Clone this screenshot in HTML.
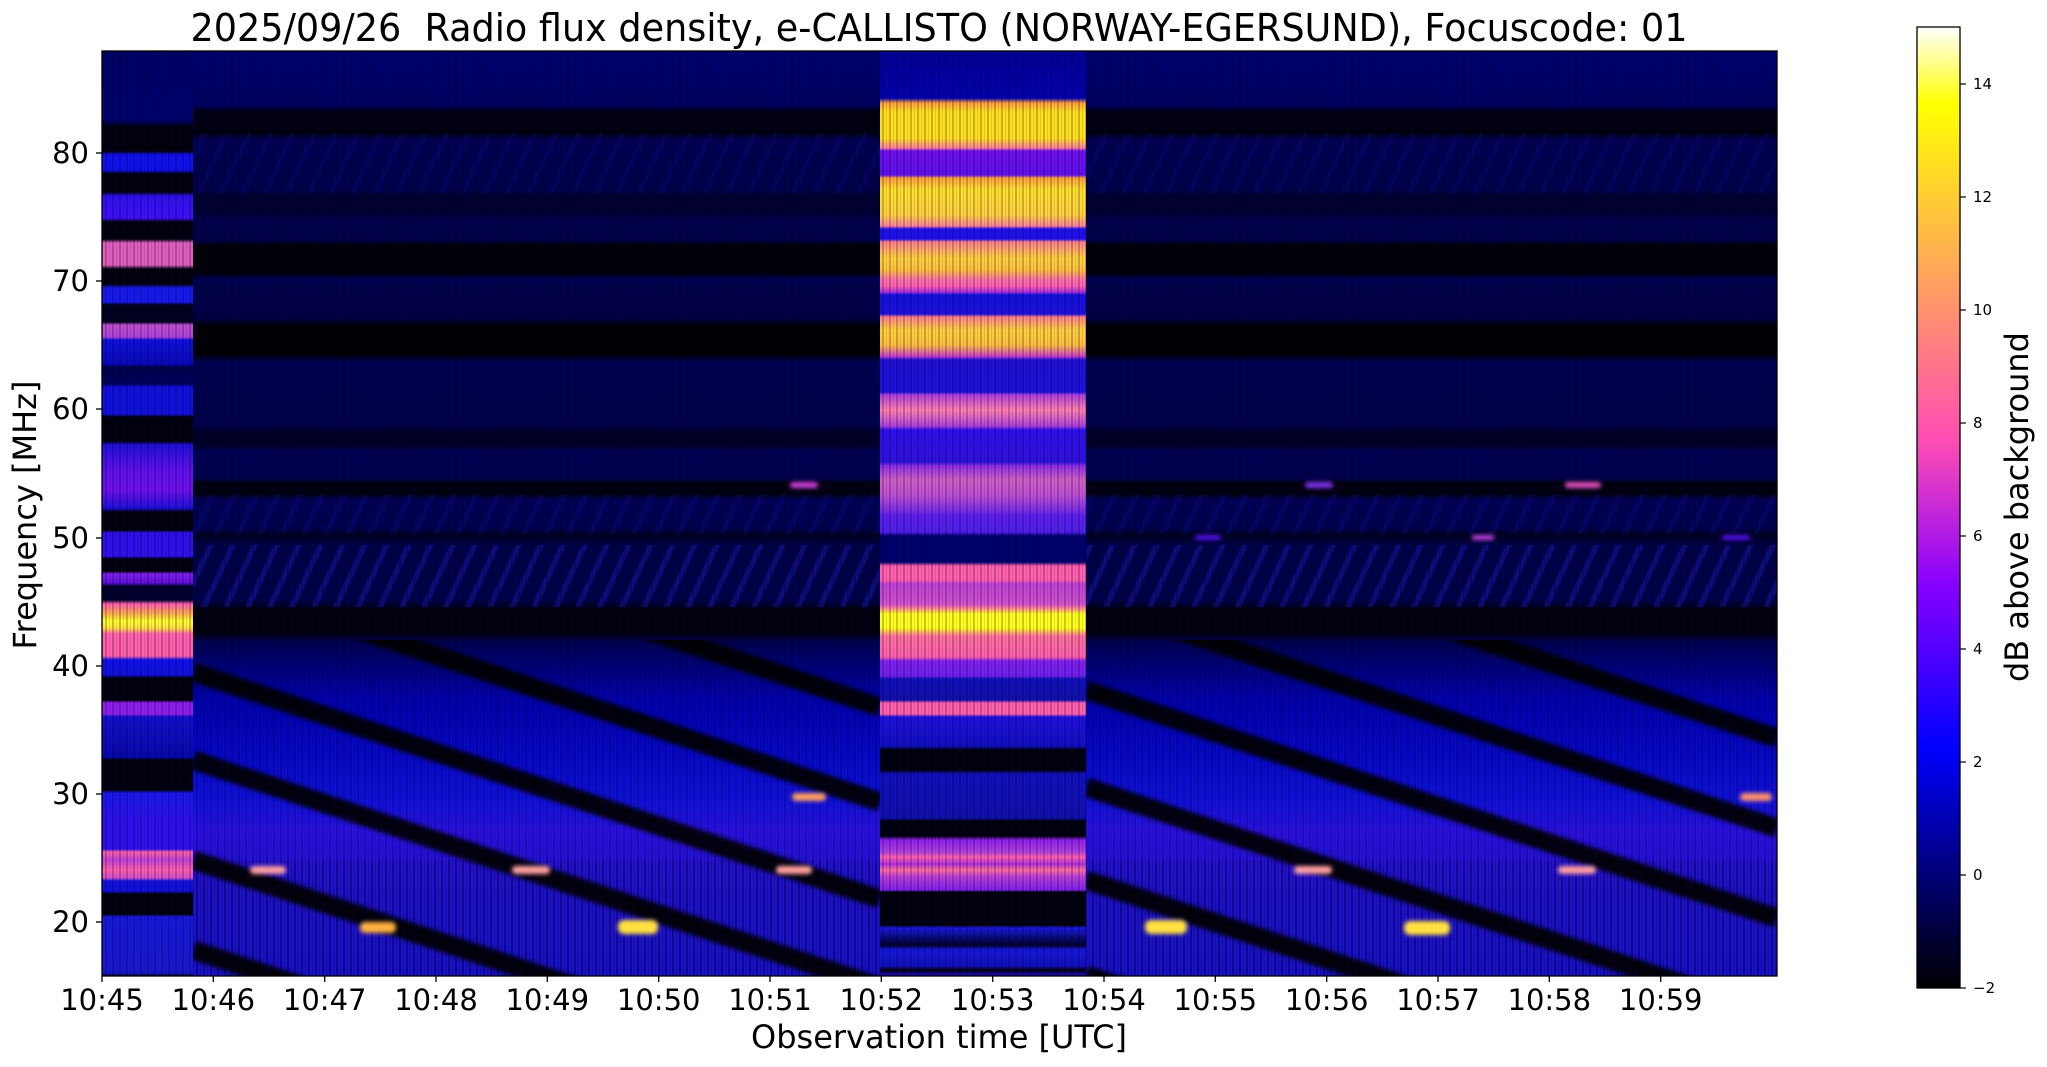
<!DOCTYPE html>
<html><head><meta charset="utf-8"><style>
html,body{margin:0;padding:0;background:#fff;overflow:hidden;width:2047px;height:1067px;}
svg{display:block;}
text{font-family:"DejaVu Sans","Liberation Sans",sans-serif;fill:#000;}
</style></head><body>
<svg width="2047" height="1067" viewBox="0 0 2047 1067" xmlns="http://www.w3.org/2000/svg">
<defs>
<linearGradient id="gN" gradientUnits="userSpaceOnUse" x1="0" y1="0" x2="0" y2="1000">
<stop offset="0.051" stop-color="#000072"/><stop offset="0.105" stop-color="#000066"/>
<stop offset="0.112" stop-color="#000012"/><stop offset="0.133" stop-color="#000012"/>
<stop offset="0.140" stop-color="#000056"/><stop offset="0.190" stop-color="#00004e"/>
<stop offset="0.196" stop-color="#000032"/><stop offset="0.210" stop-color="#000032"/>
<stop offset="0.220" stop-color="#00004e"/><stop offset="0.240" stop-color="#00004c"/>
<stop offset="0.246" stop-color="#000008"/><stop offset="0.272" stop-color="#000008"/>
<stop offset="0.280" stop-color="#00005a"/><stop offset="0.287" stop-color="#00004c"/>
<stop offset="0.318" stop-color="#00004a"/><stop offset="0.326" stop-color="#000006"/>
<stop offset="0.354" stop-color="#000006"/><stop offset="0.362" stop-color="#000056"/>
<stop offset="0.425" stop-color="#00004e"/><stop offset="0.432" stop-color="#00002a"/>
<stop offset="0.445" stop-color="#00002a"/><stop offset="0.452" stop-color="#000058"/>
<stop offset="0.478" stop-color="#000052"/><stop offset="0.483" stop-color="#000012"/>
<stop offset="0.494" stop-color="#000012"/><stop offset="0.500" stop-color="#000058"/>
<stop offset="0.528" stop-color="#000052"/><stop offset="0.535" stop-color="#000022"/>
<stop offset="0.545" stop-color="#00004a"/><stop offset="0.600" stop-color="#00004c"/>
<stop offset="0.610" stop-color="#000010"/><stop offset="0.633" stop-color="#000010"/>
<stop offset="0.642" stop-color="#000055"/><stop offset="0.700" stop-color="#0000b0"/>
<stop offset="0.760" stop-color="#0808cc"/><stop offset="0.800" stop-color="#1010dc"/>
<stop offset="0.830" stop-color="#2a10e2"/><stop offset="0.880" stop-color="#2010d0"/>
<stop offset="0.976" stop-color="#1a10d0"/>
</linearGradient>
<linearGradient id="gL" gradientUnits="userSpaceOnUse" x1="0" y1="0" x2="0" y2="1000">
<stop offset="0.050" stop-color="#00006a"/><stop offset="0.120" stop-color="#000070"/>
<stop offset="0.127" stop-color="#000010"/><stop offset="0.151" stop-color="#000010"/>
<stop offset="0.155" stop-color="#1010f0"/><stop offset="0.170" stop-color="#1010f0"/>
<stop offset="0.174" stop-color="#000010"/><stop offset="0.192" stop-color="#000010"/>
<stop offset="0.196" stop-color="#3010f0"/><stop offset="0.218" stop-color="#4010ff"/>
<stop offset="0.222" stop-color="#000010"/><stop offset="0.239" stop-color="#000010"/>
<stop offset="0.243" stop-color="#e060c0"/><stop offset="0.265" stop-color="#e060c0"/>
<stop offset="0.269" stop-color="#000010"/><stop offset="0.284" stop-color="#000010"/>
<stop offset="0.288" stop-color="#1818f0"/><stop offset="0.302" stop-color="#1818f0"/>
<stop offset="0.305" stop-color="#000020"/><stop offset="0.322" stop-color="#000020"/>
<stop offset="0.325" stop-color="#c050d0"/><stop offset="0.337" stop-color="#b040e0"/>
<stop offset="0.340" stop-color="#1010e0"/><stop offset="0.364" stop-color="#0808c0"/>
<stop offset="0.367" stop-color="#000050"/><stop offset="0.384" stop-color="#000060"/>
<stop offset="0.387" stop-color="#1010e0"/><stop offset="0.414" stop-color="#1010e0"/>
<stop offset="0.417" stop-color="#000010"/><stop offset="0.441" stop-color="#000010"/>
<stop offset="0.445" stop-color="#2010e0"/><stop offset="0.470" stop-color="#6010f0"/>
<stop offset="0.490" stop-color="#7010f0"/><stop offset="0.508" stop-color="#2010e0"/>
<stop offset="0.512" stop-color="#000010"/><stop offset="0.530" stop-color="#000010"/>
<stop offset="0.533" stop-color="#3010f0"/><stop offset="0.556" stop-color="#3010f0"/>
<stop offset="0.559" stop-color="#000010"/><stop offset="0.571" stop-color="#000010"/>
<stop offset="0.574" stop-color="#8020f0"/><stop offset="0.583" stop-color="#6010e0"/>
<stop offset="0.586" stop-color="#000030"/><stop offset="0.600" stop-color="#000030"/>
<stop offset="0.604" stop-color="#ff60b0"/><stop offset="0.614" stop-color="#ffb050"/>
<stop offset="0.621" stop-color="#ffff30"/><stop offset="0.628" stop-color="#ffe040"/>
<stop offset="0.634" stop-color="#ff60b0"/><stop offset="0.656" stop-color="#ff60b0"/>
<stop offset="0.660" stop-color="#1010f0"/><stop offset="0.675" stop-color="#1010e0"/>
<stop offset="0.678" stop-color="#000010"/><stop offset="0.700" stop-color="#000010"/>
<stop offset="0.703" stop-color="#9020f0"/><stop offset="0.714" stop-color="#9020f0"/>
<stop offset="0.717" stop-color="#1010d0"/><stop offset="0.757" stop-color="#0808b0"/>
<stop offset="0.760" stop-color="#000010"/><stop offset="0.790" stop-color="#000010"/>
<stop offset="0.793" stop-color="#1818f0"/><stop offset="0.820" stop-color="#3010f0"/>
<stop offset="0.849" stop-color="#3010f0"/><stop offset="0.852" stop-color="#ff60b0"/>
<stop offset="0.860" stop-color="#c040d8"/><stop offset="0.870" stop-color="#ff60b0"/>
<stop offset="0.878" stop-color="#d050d0"/><stop offset="0.881" stop-color="#1010e0"/>
<stop offset="0.891" stop-color="#1010e0"/><stop offset="0.894" stop-color="#000010"/>
<stop offset="0.914" stop-color="#000010"/><stop offset="0.917" stop-color="#1818e0"/>
<stop offset="0.973" stop-color="#1818d0"/><stop offset="0.976" stop-color="#000020"/>
</linearGradient>
<linearGradient id="gM" gradientUnits="userSpaceOnUse" x1="0" y1="0" x2="0" y2="1000">
<stop offset="0.050" stop-color="#00009a"/><stop offset="0.098" stop-color="#0000b0"/>
<stop offset="0.103" stop-color="#ffa040"/><stop offset="0.112" stop-color="#ffe020"/>
<stop offset="0.138" stop-color="#ffe020"/><stop offset="0.148" stop-color="#ff80a0"/>
<stop offset="0.151" stop-color="#7010f0"/><stop offset="0.175" stop-color="#6010f0"/>
<stop offset="0.178" stop-color="#ffa040"/><stop offset="0.190" stop-color="#ffe030"/>
<stop offset="0.215" stop-color="#ffd040"/><stop offset="0.226" stop-color="#ff80a0"/>
<stop offset="0.229" stop-color="#2010f0"/><stop offset="0.239" stop-color="#2010f0"/>
<stop offset="0.242" stop-color="#ff8090"/><stop offset="0.258" stop-color="#ffd040"/>
<stop offset="0.270" stop-color="#ffc040"/><stop offset="0.280" stop-color="#ff70b0"/>
<stop offset="0.286" stop-color="#ff60b0"/><stop offset="0.292" stop-color="#b030e0"/>
<stop offset="0.295" stop-color="#1010e0"/><stop offset="0.314" stop-color="#2010e0"/>
<stop offset="0.317" stop-color="#ff8090"/><stop offset="0.330" stop-color="#ffd040"/>
<stop offset="0.345" stop-color="#ffc040"/><stop offset="0.356" stop-color="#d040d0"/>
<stop offset="0.360" stop-color="#2010d8"/><stop offset="0.392" stop-color="#2010e0"/>
<stop offset="0.395" stop-color="#b040e0"/><stop offset="0.410" stop-color="#ff80b0"/>
<stop offset="0.426" stop-color="#b040e0"/><stop offset="0.430" stop-color="#3010f0"/>
<stop offset="0.462" stop-color="#3010e0"/><stop offset="0.466" stop-color="#9030e8"/>
<stop offset="0.480" stop-color="#d060c8"/><stop offset="0.495" stop-color="#c050d8"/>
<stop offset="0.510" stop-color="#8030e8"/><stop offset="0.515" stop-color="#6020f0"/>
<stop offset="0.532" stop-color="#5020f0"/><stop offset="0.536" stop-color="#000070"/>
<stop offset="0.562" stop-color="#000070"/><stop offset="0.566" stop-color="#ff60b0"/>
<stop offset="0.580" stop-color="#ff60b0"/><stop offset="0.584" stop-color="#c040d8"/>
<stop offset="0.604" stop-color="#d050d0"/><stop offset="0.608" stop-color="#ff80a0"/>
<stop offset="0.614" stop-color="#ffff20"/><stop offset="0.628" stop-color="#ffff20"/>
<stop offset="0.636" stop-color="#ff70a0"/><stop offset="0.657" stop-color="#ff60b0"/>
<stop offset="0.661" stop-color="#8020f0"/><stop offset="0.676" stop-color="#7020f0"/>
<stop offset="0.679" stop-color="#1010c0"/><stop offset="0.700" stop-color="#1010b0"/>
<stop offset="0.703" stop-color="#ff60b0"/><stop offset="0.714" stop-color="#ff60b0"/>
<stop offset="0.717" stop-color="#2010e0"/><stop offset="0.746" stop-color="#1010c8"/>
<stop offset="0.750" stop-color="#000010"/><stop offset="0.770" stop-color="#000010"/>
<stop offset="0.774" stop-color="#1010c0"/><stop offset="0.818" stop-color="#1010b0"/>
<stop offset="0.821" stop-color="#000010"/><stop offset="0.836" stop-color="#000010"/>
<stop offset="0.840" stop-color="#9020f0"/><stop offset="0.852" stop-color="#b040e0"/>
<stop offset="0.857" stop-color="#ff60b0"/><stop offset="0.864" stop-color="#b030e0"/>
<stop offset="0.870" stop-color="#ff70a0"/><stop offset="0.876" stop-color="#c040d8"/>
<stop offset="0.890" stop-color="#8020f0"/><stop offset="0.892" stop-color="#000010"/>
<stop offset="0.925" stop-color="#000010"/><stop offset="0.928" stop-color="#1818e0"/>
<stop offset="0.945" stop-color="#000030"/><stop offset="0.950" stop-color="#1818e0"/>
<stop offset="0.966" stop-color="#1010c0"/><stop offset="0.970" stop-color="#000010"/>
<stop offset="0.976" stop-color="#2010e0"/>
</linearGradient>
<linearGradient id="gC" x1="0" y1="0" x2="0" y2="1">
<stop offset="0" stop-color="#ffffff"/><stop offset="0.08" stop-color="#ffff00"/>
<stop offset="0.25" stop-color="#ffa857"/><stop offset="0.43" stop-color="#ff4db3"/>
<stop offset="0.58" stop-color="#8800ff"/><stop offset="0.75" stop-color="#0000ff"/>
<stop offset="1" stop-color="#000000"/>
</linearGradient>
<pattern id="vt" width="7" height="40" patternUnits="userSpaceOnUse">
<rect x="0" y="0" width="2" height="40" fill="#000" opacity="0.22"/>
<rect x="4" y="0" width="1" height="40" fill="#000" opacity="0.12"/>
</pattern>
<pattern id="dg" width="22" height="40" patternUnits="userSpaceOnUse" patternTransform="skewX(-25)">
<rect x="0" y="0" width="6" height="40" fill="#1a1ab8" opacity="0.45"/>
</pattern>
<clipPath id="cS2"><rect x="193" y="640" width="687" height="336"/></clipPath>
<clipPath id="cS4"><rect x="1086" y="640" width="691" height="336"/></clipPath>
<filter id="bl"><feGaussianBlur stdDeviation="2"/></filter>
</defs>

<rect x="102" y="51" width="1675" height="925" fill="url(#gN)"/>
<rect x="102" y="51" width="91" height="925" fill="url(#gL)"/>
<rect x="880" y="51" width="206" height="925" fill="url(#gM)"/>

<rect x="193" y="545" width="687" height="62" fill="url(#dg)"/>
<rect x="1086" y="545" width="691" height="62" fill="url(#dg)"/>
<rect x="193" y="133" width="687" height="60" fill="url(#dg)" opacity="0.3"/>
<rect x="1086" y="133" width="691" height="60" fill="url(#dg)" opacity="0.3"/>
<rect x="193" y="494" width="687" height="40" fill="url(#dg)" opacity="0.4"/>
<rect x="1086" y="494" width="691" height="40" fill="url(#dg)" opacity="0.4"/>

<g clip-path="url(#cS2)" stroke="#000" stroke-width="19" opacity="0.92" filter="url(#bl)">
<line x1="193" y1="575" x2="880" y2="802"/>
<line x1="193" y1="672" x2="880" y2="899"/>
<line x1="193" y1="760" x2="880" y2="987"/>
<line x1="193" y1="860" x2="880" y2="1087"/>
<line x1="193" y1="950" x2="880" y2="1177"/>
<line x1="193" y1="480" x2="880" y2="707"/>
</g>
<g clip-path="url(#cS4)" stroke="#000" stroke-width="19" opacity="0.92" filter="url(#bl)">
<line x1="1086" y1="600" x2="1777" y2="828"/>
<line x1="1086" y1="690" x2="1777" y2="918"/>
<line x1="1086" y1="787" x2="1777" y2="1015"/>
<line x1="1086" y1="880" x2="1777" y2="1108"/>
<line x1="1086" y1="975" x2="1777" y2="1203"/>
<line x1="1086" y1="510" x2="1777" y2="738"/>
</g>

<rect x="102" y="51" width="1675" height="925" fill="url(#vt)"/>
<rect x="193" y="860" width="687" height="116" fill="url(#vt)"/>
<rect x="1086" y="860" width="691" height="116" fill="url(#vt)"/>

<g filter="url(#bl)">
<rect x="250" y="866" width="36" height="8" rx="4" fill="#ffa0a0"/>
<rect x="512" y="866" width="38" height="8" rx="4" fill="#ffa0a0"/>
<rect x="776" y="866" width="36" height="8" rx="4" fill="#ffa0a0"/>
<rect x="792" y="793" width="34" height="8" rx="4" fill="#ffa060"/>
<rect x="360" y="922" width="36" height="11" rx="5" fill="#ffb040"/>
<rect x="618" y="920" width="40" height="14" rx="6" fill="#ffe040"/>
<rect x="1145" y="920" width="42" height="14" rx="6" fill="#ffe040"/>
<rect x="1404" y="921" width="46" height="14" rx="6" fill="#ffe040"/>
<rect x="1294" y="866" width="38" height="8" rx="4" fill="#ffa0a0"/>
<rect x="1558" y="866" width="38" height="8" rx="4" fill="#ffa0a0"/>
<rect x="1740" y="793" width="32" height="8" rx="4" fill="#ff9070"/>
<rect x="790" y="482" width="28" height="6" rx="3" fill="#d040e0"/>
<rect x="1305" y="482" width="28" height="6" rx="3" fill="#8030f0"/>
<rect x="1565" y="482" width="36" height="6" rx="3" fill="#e050c0"/>
<rect x="1195" y="535" width="26" height="5" rx="2" fill="#5010f0"/>
<rect x="1472" y="535" width="22" height="5" rx="2" fill="#c040e0"/>
<rect x="1722" y="535" width="28" height="5" rx="2" fill="#5010f0"/>
</g>

<rect x="102" y="51" width="1675" height="925" fill="none" stroke="#000" stroke-width="1.3"/>

<g stroke="#000" stroke-width="1.3">
<line x1="102" y1="976" x2="102" y2="982"/><line x1="213.3" y1="976" x2="213.3" y2="982"/>
<line x1="324.7" y1="976" x2="324.7" y2="982"/><line x1="436" y1="976" x2="436" y2="982"/>
<line x1="547.3" y1="976" x2="547.3" y2="982"/><line x1="658.7" y1="976" x2="658.7" y2="982"/>
<line x1="770" y1="976" x2="770" y2="982"/><line x1="881.3" y1="976" x2="881.3" y2="982"/>
<line x1="992.7" y1="976" x2="992.7" y2="982"/><line x1="1104" y1="976" x2="1104" y2="982"/>
<line x1="1215.3" y1="976" x2="1215.3" y2="982"/><line x1="1326.7" y1="976" x2="1326.7" y2="982"/>
<line x1="1438" y1="976" x2="1438" y2="982"/><line x1="1549.3" y1="976" x2="1549.3" y2="982"/>
<line x1="1660.7" y1="976" x2="1660.7" y2="982"/>
<line x1="96" y1="922" x2="102" y2="922"/><line x1="96" y1="794" x2="102" y2="794"/>
<line x1="96" y1="666" x2="102" y2="666"/><line x1="96" y1="538" x2="102" y2="538"/>
<line x1="96" y1="409" x2="102" y2="409"/><line x1="96" y1="281" x2="102" y2="281"/>
<line x1="96" y1="153" x2="102" y2="153"/>
</g>
<g font-size="29" text-anchor="middle">
<text x="102" y="1010">10:45</text><text x="213.3" y="1010">10:46</text>
<text x="324.7" y="1010">10:47</text><text x="436" y="1010">10:48</text>
<text x="547.3" y="1010">10:49</text><text x="658.7" y="1010">10:50</text>
<text x="770" y="1010">10:51</text><text x="881.3" y="1010">10:52</text>
<text x="992.7" y="1010">10:53</text><text x="1104" y="1010">10:54</text>
<text x="1215.3" y="1010">10:55</text><text x="1326.7" y="1010">10:56</text>
<text x="1438" y="1010">10:57</text><text x="1549.3" y="1010">10:58</text>
<text x="1660.7" y="1010">10:59</text>
</g>
<g font-size="29" text-anchor="end">
<text x="89" y="932">20</text><text x="89" y="804">30</text>
<text x="89" y="676">40</text><text x="89" y="548">50</text>
<text x="89" y="419">60</text><text x="89" y="291">70</text>
<text x="89" y="163">80</text>
</g>
<text x="939" y="1048" font-size="32" text-anchor="middle">Observation time [UTC]</text>
<text transform="translate(36,515) rotate(-90)" font-size="32" text-anchor="middle">Frequency [MHz]</text>
<text x="939" y="41" font-size="38" text-anchor="middle" textLength="1497" lengthAdjust="spacingAndGlyphs">2025/09/26&#160; Radio flux density, e-CALLISTO (NORWAY-EGERSUND), Focuscode: 01</text>

<rect x="1917" y="27" width="43" height="961" fill="url(#gC)" stroke="#000" stroke-width="1.3"/>
<g stroke="#000" stroke-width="1.2">
<line x1="1960" y1="988" x2="1966" y2="988"/><line x1="1960" y1="875" x2="1966" y2="875"/>
<line x1="1960" y1="762" x2="1966" y2="762"/><line x1="1960" y1="649" x2="1966" y2="649"/>
<line x1="1960" y1="536" x2="1966" y2="536"/><line x1="1960" y1="423" x2="1966" y2="423"/>
<line x1="1960" y1="310" x2="1966" y2="310"/><line x1="1960" y1="197" x2="1966" y2="197"/>
<line x1="1960" y1="84" x2="1966" y2="84"/>
</g>
<g font-size="15">
<text x="1973" y="993">−2</text><text x="1973" y="880">0</text>
<text x="1973" y="767">2</text><text x="1973" y="654">4</text>
<text x="1973" y="541">6</text><text x="1973" y="428">8</text>
<text x="1973" y="315">10</text><text x="1973" y="202">12</text>
<text x="1973" y="89">14</text>
</g>
<text transform="translate(2028,507) rotate(-90)" font-size="32" text-anchor="middle">dB above background</text>
</svg>
</body></html>
